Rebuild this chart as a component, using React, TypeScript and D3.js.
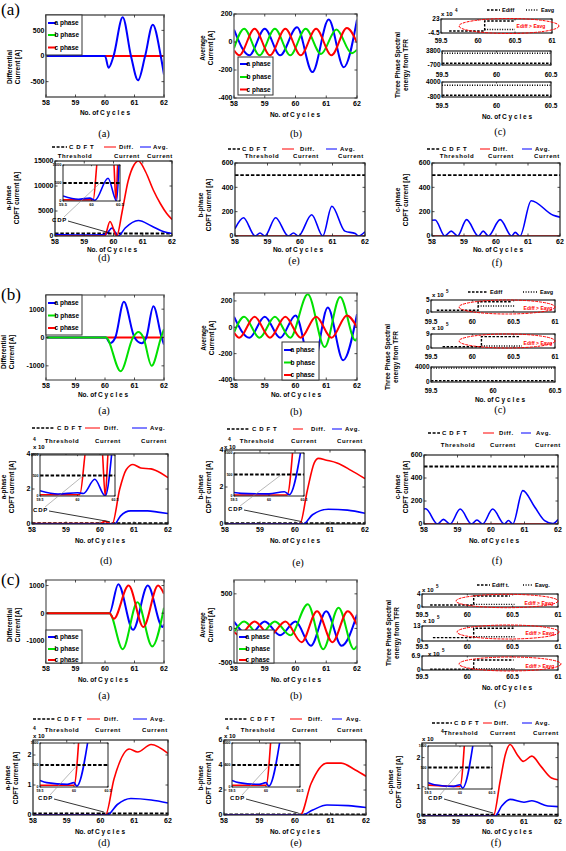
import React from 'react';
import * as d3 from 'd3';

type Pt = [number, number];

const SANS = '"Liberation Sans", Arial, Helvetica, sans-serif';
const SERIF = '"Liberation Serif", "Times New Roman", serif';
const BLUE = '#0000ff', GREEN = '#00e000', RED = '#ff0000';

// ---------- shared ticks / labels ----------
const cycleTicks = [58, 59, 60, 61, 62];
const tfrTicks3 = [59.5, 60, 60.5];
const tfrTicks4 = [59.5, 60, 60.5, 61];
const insetTicks = [59.5, 60, 60.5];
const insetYTicks = [0, 500, 1000];
const phaseNames = ['a phase', 'b phase', 'c phase'];

// ================= SECTION (a) =================
const aDiffA: Pt[] = [[58,0],[60,0],[60.12,-230],[60.29,0],[60.6,756],[60.88,0],[61.12,-475],[61.36,0],[61.62,610],[61.89,0],[62,-365]];
const aDiffB: Pt[] = [[58,0],[62,0]];
const aDiffC: Pt[] = [[58,0],[62,0]];

const aAvgA: Pt[] = [[58,88],[58.5,-95],[59,95],[59.5,-95],[60.05,105],[60.55,-215],[61.08,160],[61.57,-180],[62,160]];
const aAvgB: Pt[] = [[58,-45],[58.33,95],[58.83,-95],[59.33,95],[59.83,-95],[60.33,95],[60.83,-85],[61.33,90],[61.83,-80],[62,-55]];
const aAvgC: Pt[] = [[58,-60],[58.17,-95],[58.67,95],[59.17,-95],[59.67,95],[60.17,-95],[60.67,95],[61.17,-95],[61.67,100],[62,-5]];

const aE1Diff: Pt[] = [[59.61,-0.5],[60.09,-0.5],[60.09,19],[60.5,19]];
const aE1Avg: Pt[] = [[60.09,2.5],[60.5,2.5]];
const aE2Diff: Pt[] = [[59.5,-150],[60.5,-150]];
const aE2Avg: Pt[] = [[59.5,3060],[60.5,3060]];
const aE3Diff: Pt[] = [[59.5,-256],[60.5,-256]];
const aE3Avg: Pt[] = [[59.5,2940],[60.5,2940]];

const aThr: Pt[] = [[58,500],[62,500]];
const aDRed: Pt[] = [[58,0],[59.7,0],[59.88,2900],[60.11,0],[60.3,5000],[60.5,11000],[60.7,14200],[60.85,15000],[61.1,12800],[61.36,9200],[61.6,6500],[61.82,4500],[62,3300]];
const aDBlue: Pt[] = [[58,300],[59,200],[59.6,250],[59.75,400],[59.95,1600],[60.16,0],[60.4,1600],[60.85,3100],[61.3,2000],[61.7,900],[62,500]];
const aDInThr: Pt[] = [[59.5,500],[60.5,500]];
const aDInRed: Pt[] = [[59.5,30],[60.03,30],[60.12,1300],[60.38,1300],[60.43,0],[60.47,1300],[60.5,1300]];
const aDInBlue: Pt[] = [[59.5,140],[59.77,50],[59.97,80],[60.06,20],[60.29,630],[60.44,0],[60.49,1300]];
const aDCdp: Pt[] = [[59.88,600],[60.15,500]];

const aEBlue: Pt[] = [[58,60],[58.26,150],[58.62,0],[58.77,25],[58.92,0],[59.25,150],[59.64,0],[59.8,25],[59.95,0],[60.36,175],[60.7,0],[60.98,245],[61.38,40],[61.7,20],[61.8,0],[62,35]];
const aERed: Pt[] = [[58,0],[62,0]];
const aFBlue: Pt[] = [[58,130],[58.1,132],[58.4,0],[58.6,40],[58.8,0],[59.08,135],[59.45,0],[59.6,40],[59.76,0],[60.13,135],[60.49,0],[60.6,30],[60.75,0],[61.1,290],[61.79,170],[62,155]];
const aFRed: Pt[] = [[58,0],[62,0]];

// ================= SECTION (b) =================
const bDiffA: Pt[] = [[58,0],[60.03,0],[60.17,-200],[60.35,0],[60.64,1260],[61,0],[61.24,-200],[61.4,0],[61.64,1100],[61.92,0],[62,-250]];
const bDiffB: Pt[] = [[58,0],[60.03,0],[60.53,-1190],[60.95,0],[61.13,190],[61.3,0],[61.58,-1000],[61.9,0],[62,300]];
const bDiffC: Pt[] = [[58,0],[62,0]];

const bAvgA: Pt[] = [[58,80],[58.5,-80],[59,80],[59.5,-80],[60,90],[60.55,-330],[61.05,150],[61.55,-250],[62,100]];
const bAvgB: Pt[] = [[58,-40],[58.33,80],[58.83,-80],[59.33,80],[59.83,-80],[60.4,250],[60.95,-150],[61.45,230],[61.95,-100],[62,-80]];
const bAvgC: Pt[] = [[58,-40],[58.17,-80],[58.67,80],[59.17,-80],[59.67,80],[60.17,-80],[60.67,80],[61.17,-80],[61.67,90],[62,0]];

const bE1Diff: Pt[] = [[59.57,0.7],[60.07,0.7],[60.07,4.3],[60.48,4.3]];
const bE1Avg: Pt[] = [[60.07,2.5],[60.52,2.5]];
const bE2Diff: Pt[] = [[59.64,0.8],[60.11,0.8],[60.11,7.3],[60.58,7.3]];
const bE2Avg: Pt[] = [[60.11,1.3],[60.6,1.3]];
const bE3Diff: Pt[] = [[59.5,347],[60.5,347]];
const bE3Avg: Pt[] = [[59.5,3733],[60.5,3733]];

const bThr4: Pt[] = [[58,0.05],[62,0.05]];
const bDRed: Pt[] = [[58,0.02],[60,0.02],[60.14,0.15],[60.3,0.02],[60.36,0],[60.58,2.0],[60.77,3.1],[60.97,3.4],[61.2,3.2],[61.5,3.15],[61.8,2.9],[62,2.65]];
const bDBlue: Pt[] = [[58,0],[60.43,0],[60.6,0.45],[60.9,0.75],[61.4,0.75],[61.7,0.68],[62,0.6]];
const bDInRed: Pt[] = [[59.5,30],[60.03,30],[60.13,1300],[60.32,1300],[60.37,0],[60.42,1300],[60.5,1300]];
const bDInBlue: Pt[] = [[59.5,130],[59.74,50],[60,80],[60.08,60],[60.23,407],[60.37,0],[60.47,1300]];
const bDCdp: Pt[] = [[60.29,0.13],[60.08,500]];

const bERed: Pt[] = [[58,0],[60.14,0],[60.35,1.8],[60.55,3.3],[60.67,3.55],[60.9,3.45],[61.2,3.3],[61.6,2.9],[62,2.45]];
const bEBlue: Pt[] = [[58,0],[60.24,0],[60.5,0.5],[60.95,0.8],[61.5,0.75],[62,0.58]];
const bEInRed: Pt[] = [[59.5,25],[60.26,25],[60.35,1300]];
const bEInBlue: Pt[] = [[59.5,80],[59.6,60],[60,50],[60.22,100],[60.29,30],[60.48,1300]];
const bECdp: Pt[] = [[60.19,0.13],[60.18,500]];

const bFBlue: Pt[] = [[58,130],[58.05,132],[58.4,0],[58.58,40],[58.78,0],[59.08,130],[59.42,0],[59.58,35],[59.75,0],[60.05,130],[60.4,0],[60.52,30],[60.65,0],[60.95,290],[61.3,150],[61.6,30],[61.85,5],[62,40]];
const bFRed: Pt[] = [[58,0],[62,0]];

// ================= SECTION (c) =================
const cDiffA: Pt[] = [[58,0],[60.15,0],[60.45,1050],[60.95,-600],[61.45,1000],[61.95,-500],[62,-400]];
const cDiffB: Pt[] = [[58,0],[60.15,0],[60.6,-1300],[61.1,400],[61.6,-1200],[62,200]];
const cDiffC: Pt[] = [[58,0],[60.15,0],[60.3,-200],[60.8,1000],[61.3,-500],[61.8,1000],[62,700]];

const cAvgA: Pt[] = [[58,100],[58.5,-100],[59,100],[59.5,-100],[60,100],[60.5,-250],[61,250],[61.5,-250],[62,200]];
const cAvgB: Pt[] = [[58,-50],[58.33,100],[58.83,-100],[59.33,100],[59.83,-100],[60.4,350],[60.9,-300],[61.4,300],[61.9,-300],[62,-250]];
const cAvgC: Pt[] = [[58,-50],[58.17,-100],[58.67,100],[59.17,-100],[59.67,100],[60.2,-200],[60.7,250],[61.2,-200],[61.7,250],[62,50]];

const cE1Diff: Pt[] = [[59.59,0.6],[60.07,0.6],[60.07,3.4],[60.47,3.4]];
const cE1Avg: Pt[] = [[60.07,0.8],[60.52,0.8]];
const cE2Diff: Pt[] = [[59.62,2.9],[60.07,2.9],[60.07,11],[60.51,11]];
const cE2Avg: Pt[] = [[60.07,3.7],[60.52,3.7]];
const cE3Diff: Pt[] = [[59.59,0.35],[60.07,0.35],[60.07,4.9],[60.51,4.9]];
const cE3Avg: Pt[] = [[60.07,0.64],[60.52,0.64]];

const cDRed: Pt[] = [[58,0],[60.15,0],[60.4,1.2],[60.85,2.2],[61.1,2.1],[61.5,2.35],[62,2.05]];
const cDBlue: Pt[] = [[58,0],[60.2,0],[60.5,0.35],[60.9,0.55],[61.5,0.5],[62,0.4]];
const cDInRed: Pt[] = [[59.5,40],[60,40],[60.08,1300]];
const cDInBlue: Pt[] = [[59.5,150],[59.6,100],[59.9,60],[60,100],[60.04,20],[60.23,1300]];
const cDCdp: Pt[] = [[60.1,0.1],[60.05,500]];

const cERed: Pt[] = [[58,0],[60.15,0],[60.45,2.5],[60.9,4.15],[61.3,4.15],[61.7,3.6],[62,3.1]];
const cEBlue: Pt[] = [[58,0],[60.2,0],[60.5,0.4],[60.9,0.8],[61.5,0.75],[62,0.6]];
const cEInRed: Pt[] = [[59.5,40],[60,40],[60.08,1300]];
const cEInBlue: Pt[] = [[59.5,150],[59.6,100],[59.9,60],[60,100],[60.04,20],[60.23,1300]];
const cECdp: Pt[] = [[60.1,0.15],[60.05,500]];

const cFRed: Pt[] = [[58,0],[60.1,0],[60.3,1.2],[60.45,2.1],[60.59,2.45],[60.8,2.1],[60.98,1.87],[61.23,2.05],[61.5,1.7],[61.81,1.3],[62,1.24]];
const cFBlue: Pt[] = [[58,0],[60.15,0],[60.35,0.35],[60.59,0.57],[61,0.47],[61.23,0.52],[61.7,0.34],[62,0.32]];
const cFInRed: Pt[] = [[59.5,90],[60,60],[60.08,1300]];
const cFInBlue: Pt[] = [[59.5,147],[59.6,100],[59.9,60],[60,100],[60.04,20],[60.23,1300]];
const cFCdp: Pt[] = [[60.09,0.1],[60.05,500]];

// ---------- helpers ----------
type Box = [number, number, number, number];
interface S { data: Pt[]; color: string; w?: number; dash?: string; linear?: boolean }

function sc(box: Box, xd: number[], yd: number[]) {
  return {
    x: d3.scaleLinear().domain(xd).range([box[0], box[2]]),
    y: d3.scaleLinear().domain(yd).range([box[3], box[1]]),
  };
}

function T(p: { x: number; y: number; s?: number; a?: 'start' | 'middle' | 'end'; w?: string; f?: string; c?: string; ls?: number; children: React.ReactNode; rot?: boolean }) {
  const common = {
    fontSize: p.s ?? 7, fontFamily: p.f ?? SANS, fontWeight: p.w ?? 'bold', fill: p.c ?? '#000',
    textAnchor: p.a ?? 'start', letterSpacing: p.ls ?? 0,
  } as any;
  if (p.rot) return <text transform={`translate(${p.x},${p.y}) rotate(-90)`} {...common}>{p.children}</text>;
  return <text x={p.x} y={p.y} {...common}>{p.children}</text>;
}

function Axes(p: {
  id: string; box: Box; xd: number[]; yd: number[]; xt: number[]; yt: number[]; ytl?: string[];
  series: S[]; fs?: number; xly?: number; stroke?: string; sw?: number; tick?: number; hideX?: boolean; ylx?: number;
}) {
  const [x0, y0, x1, y1] = p.box;
  const { x, y } = sc(p.box, p.xd, p.yd);
  const fs = p.fs ?? 7;
  const tk = p.tick ?? 2.5;
  const xly = p.xly ?? y1 + fs + 1;
  return (
    <g>
      <defs><clipPath id={p.id}><rect x={x0} y={y0} width={x1 - x0} height={y1 - y0} /></clipPath></defs>
      <rect x={x0} y={y0} width={x1 - x0} height={y1 - y0} fill="#fff" />
      <g clipPath={`url(#${p.id})`}>
        {p.series.map((s, i) => {
          const gen = d3.line<Pt>().x(d => x(d[0])).y(d => y(d[1])).curve(s.linear ? d3.curveLinear : d3.curveMonotoneX);
          return <path key={i} d={gen(s.data) ?? ''} fill="none" stroke={s.color} strokeWidth={s.w ?? 1.8} strokeDasharray={s.dash} />;
        })}
      </g>
      <rect x={x0} y={y0} width={x1 - x0} height={y1 - y0} fill="none" stroke={p.stroke ?? '#222'} strokeWidth={p.sw ?? 1.2} />
      {p.xt.map((v, i) => (
        <g key={'x' + i}>
          <line x1={x(v)} x2={x(v)} y1={y1} y2={y1 - tk} stroke="#222" strokeWidth={0.8} />
          <line x1={x(v)} x2={x(v)} y1={y0} y2={y0 + tk} stroke="#222" strokeWidth={0.8} />
          {!p.hideX && <T x={x(v)} y={xly} s={fs} a="middle">{String(v)}</T>}
        </g>
      ))}
      {p.yt.map((v, i) => (
        <g key={'y' + i}>
          <line x1={x0} x2={x0 + tk} y1={y(v)} y2={y(v)} stroke="#222" strokeWidth={0.8} />
          <line x1={x1} x2={x1 - tk} y1={y(v)} y2={y(v)} stroke="#222" strokeWidth={0.8} />
          <T x={p.ylx ?? x0 - 1.5} y={y(v) + fs * 0.35} s={fs} a="end">{p.ytl ? p.ytl[i] : String(v)}</T>
        </g>
      ))}
    </g>
  );
}

function PhaseLegend({ x, y, w, h, rows }: { x: number; y: number; w: number; h: number; rows: number[] }) {
  const cols = [BLUE, GREEN, RED];
  return (
    <g>
      <rect x={x} y={y} width={w} height={h} fill="#fff" stroke="#333" strokeWidth={1} />
      {rows.map((ry, i) => (
        <g key={i}>
          <line x1={x + 2} x2={x + 10} y1={ry} y2={ry} stroke={cols[i]} strokeWidth={2} />
          <T x={x + 8.5} y={ry + 2.3} s={6.5}>{phaseNames[i]}</T>
        </g>
      ))}
    </g>
  );
}

function CdftLegend({ y1, y2, cols, four }: { y1: number; y2: number; cols: number[][]; four?: number }) {
  const names = [['C D F T', 'Threshold'], ['Diff.', 'Current'], ['Avg.', 'Current']];
  const st = [{ c: '#000', d: '3,1.6', w: 1.6 }, { c: RED, d: undefined, w: 1 }, { c: BLUE, d: undefined, w: 1 }];
  return (
    <g>
      {cols.map((c, i) => (
        <g key={i}>
          <line x1={c[0]} x2={c[1]} y1={y1 - 2} y2={y1 - 2} stroke={st[i].c} strokeWidth={st[i].w} strokeDasharray={st[i].d} />
          <T x={c[2]} y={y1} s={6} ls={0.6}>{names[i][0]}</T>
          <T x={c[3]} y={y2} s={6} a="middle" ls={0.6}>{names[i][1]}</T>
        </g>
      ))}
      {four !== undefined && <T x={four} y={y2 - 2} s={5}>4</T>}
    </g>
  );
}

function ELegend({ y, d0, d1, dt, a0, a1, at, t1, t2 }: any) {
  return (
    <g>
      <line x1={d0} x2={d1} y1={y - 2} y2={y - 2} stroke="#000" strokeWidth={1.3} strokeDasharray="2.5,1.5" />
      <T x={dt} y={y} s={5.5}>{t1}</T>
      <line x1={a0} x2={a1} y1={y - 2} y2={y - 2} stroke="#000" strokeWidth={1.3} strokeDasharray="1,1.6" />
      <T x={at} y={y} s={5.5}>{t2}</T>
    </g>
  );
}

function Ell({ cx, cy, rx, ry, tx, ty }: { cx: number; cy: number; rx: number; ry: number; tx: number; ty: number }) {
  return (
    <g>
      <ellipse cx={cx} cy={cy} rx={rx} ry={ry} fill="none" stroke={RED} strokeWidth={1} strokeDasharray="3,1" />
      <T x={tx} y={ty} s={5} c={RED} a="middle">Ediff &gt; Eavg</T>
    </g>
  );
}

function Exp({ x, y, e }: { x: number; y: number; e: string }) {
  return (
    <g>
      <T x={x} y={y} s={6}>x 10</T>
      <T x={x + 14} y={y - 4} s={4.5}>{e}</T>
    </g>
  );
}

function Cdp({ mainBox, mainXd, mainYd, inBox, inXd, inYd, pts, tx, ty }: any) {
  const m = sc(mainBox, mainXd, mainYd);
  const n = sc(inBox, inXd, inYd);
  const [mp, ip] = pts as Pt[];
  return (
    <g>
      <T x={tx} y={ty} s={6} ls={0.8}>CDP</T>
      <line x1={tx + 16} y1={ty - 1} x2={m.x(mp[0])} y2={m.y(mp[1])} stroke="#000" strokeWidth={0.8} />
      <line x1={tx + 12} y1={ty - 5} x2={n.x(ip[0])} y2={n.y(ip[1])} stroke="#888" strokeWidth={0.6} />
    </g>
  );
}

const XL = 'No. of C y c l e s';

function YLab({ x, y, l1, l2 }: { x: number; y: number; l1: string; l2: string }) {
  return (
    <g>
      <T x={x} y={y} s={6.5} a="middle" rot>{l1}</T>
      <T x={x + 8} y={y} s={6.5} a="middle" rot>{l2}</T>
    </g>
  );
}

function Cap({ x, y, t }: { x: number; y: number; t: string }) {
  return <T x={x} y={y} s={10.5} w="normal" f={SERIF} a="middle">{t}</T>;
}

const thrS = (d: Pt[]): S => ({ data: d, color: '#000', w: 1.8, dash: '3.5,1.8', linear: true });
const redS = (d: Pt[]): S => ({ data: d, color: RED, w: 1.6 });
const blueS = (d: Pt[]): S => ({ data: d, color: BLUE, w: 1.6 });

function TfrPanel({ id, subs, ylab, xlab, cap }: any) {
  return (
    <g>
      {subs.map((s: any, i: number) => (
        <Axes key={i} id={id + i} box={s.box} xd={s.xd} yd={s.yd} xt={s.xt} yt={s.yd} ytl={s.ytl} xly={s.xly} fs={6.5} tick={1.5}
          series={[
            { data: s.diff, color: '#000', w: 1.4, dash: '2.5,1.5', linear: true },
            { data: s.avg, color: '#000', w: 1.4, dash: '1,1.5', linear: true },
          ]} />
      ))}
      <YLab x={ylab[0]} y={ylab[1]} l1="Three Phase Spectral" l2="energy from TFR" />
      <T x={xlab[0]} y={xlab[1]} s={6.5} a="middle">{XL}</T>
      <Cap x={cap[0]} y={cap[1]} t="(c)" />
    </g>
  );
}

export default function App() {
  const A_a: Box = [46, 15, 164, 97];
  const A_b: Box = [234, 14, 357, 98];
  const A_d: Box = [55, 161, 172, 236];
  const A_dIn: Box = [63, 165, 120, 201];
  const A_e: Box = [235, 163, 365, 236];
  const A_f: Box = [432, 163, 560, 236];

  const B_a: Box = [46, 295, 164, 380];
  const B_b: Box = [234, 293, 357, 380];
  const B_d: Box = [32, 454, 168, 524];
  const B_dIn: Box = [40, 455, 115, 496];
  const B_e: Box = [225, 450, 365, 524];
  const B_eIn: Box = [234, 453, 304, 496];
  const B_f: Box = [424, 455, 558, 524];

  const C_a: Box = [46, 580, 164, 663];
  const C_b: Box = [234, 580, 357, 663];
  const C_d: Box = [33, 740, 168, 815];
  const C_dIn: Box = [40, 743, 108, 787];
  const C_e: Box = [224, 740, 366, 815];
  const C_eIn: Box = [232, 743, 300, 787];
  const C_f: Box = [422, 743, 558, 816];
  const C_fIn: Box = [428, 746, 492, 789];

  const inXd = [59.5, 60.5], inYd = [0, 1000];

  return (
    <svg width={566} height={851} style={{ position: 'absolute', left: 0, top: 0 }} xmlns="http://www.w3.org/2000/svg">
      <rect width={566} height={851} fill="#fff" />

      {/* ================= (a) ================= */}
      <T x={1} y={15} s={17} w="normal" f={SERIF}>(a)</T>

      <Axes id="aa" box={A_a} xd={[58, 62]} yd={[-800, 800]} xt={cycleTicks} yt={[-500, 0, 500]} stroke="#777" sw={1.8}
        series={[{ data: aDiffB, color: GREEN, w: 2, dash: '4,3' }, { data: aDiffC, color: RED, w: 2 }, { data: aDiffA, color: BLUE, w: 2 }]} />
      <PhaseLegend x={46} y={15} w={36} h={40} rows={[23, 35, 47.5]} />
      <YLab x={12} y={67} l1="Differential" l2="Current [A]" />
      <T x={105} y={115} s={6.5} a="middle">{XL}</T>
      <Cap x={104} y={137} t="(a)" />

      <Axes id="ab" box={A_b} xd={[58, 62]} yd={[-400, 200]} xt={cycleTicks} yt={[-400, -200, 0, 200]} stroke="#777" sw={1.5}
        series={[{ data: aAvgA, color: BLUE, w: 2 }, { data: aAvgB, color: GREEN, w: 2 }, { data: aAvgC, color: RED, w: 2 }]} />
      <PhaseLegend x={238} y={57} w={35} h={38} rows={[64, 77, 89.5]} />
      <YLab x={205} y={48} l1="Average" l2="Current [A]" />
      <T x={295} y={117} s={6.5} a="middle">{XL}</T>
      <Cap x={296} y={137} t="(b)" />

      <TfrPanel id="ac" ylab={[400, 65]} xlab={[507, 119]} cap={[500, 135]}
        subs={[
          { box: [441, 19, 552, 33], xd: [59.5, 61], yd: [-4.5, 23], ytl: ['-4.5', '23'], xt: tfrTicks4, xly: 43, diff: aE1Diff, avg: aE1Avg },
          { box: [442, 51, 551, 65], xd: [59.5, 60.5], yd: [-700, 3800], ytl: ['-700', '3800'], xt: tfrTicks3, xly: 77, diff: aE2Diff, avg: aE2Avg },
          { box: [442, 82, 551, 97], xd: [59.5, 60.5], yd: [-800, 4000], ytl: ['-800', '4000'], xt: tfrTicks3, xly: 108, diff: aE3Diff, avg: aE3Avg },
        ]} />
      <Exp x={441} y={16} e="4" />
      <ELegend y={12} d0={487} d1={500} dt={502} a0={526} a1={538} at={541} t1="Ediff" t2="Eavg" />
      <Ell cx={509} cy={26} rx={50} ry={7.5} tx={531} ty={28} />

      <CdftLegend y1={149} y2={158} cols={[[52, 67, 69, 75], [104, 116, 119, 127], [140, 151, 153, 160]]} />
      <Axes id="ad" box={A_d} xd={[58, 62]} yd={[0, 15000]} xt={cycleTicks} yt={[0, 5000, 10000, 15000]}
        series={[thrS(aThr), blueS(aDBlue), redS(aDRed)]} />
      <Axes id="adi" box={A_dIn} xd={inXd} yd={inYd} xt={insetTicks} yt={insetYTicks} fs={4} tick={1.2} sw={1} xly={206}
        series={[redS(aDInRed), blueS(aDInBlue), thrS(aDInThr)]} />
      <Cdp mainBox={A_d} mainXd={[58, 62]} mainYd={[0, 15000]} inBox={A_dIn} inXd={inXd} inYd={inYd} pts={aDCdp} tx={52} ty={222} />
      <YLab x={11} y={198} l1="a-phase" l2="CDFT current [A]" />
      <T x={112} y={252} s={6.5} a="middle">{XL}</T>
      <Cap x={104} y={261} t="(d)" />

      <CdftLegend y1={151} y2={158} cols={[[228, 240, 242, 262], [282, 294, 300, 306], [326, 337, 340, 351]]} />
      <Axes id="ae" box={A_e} xd={[58, 62]} yd={[0, 600]} xt={cycleTicks} yt={[0, 200, 400, 600]}
        series={[thrS(aThr), redS(aERed), blueS(aEBlue)]} />
      <YLab x={203} y={205} l1="b-phase" l2="CDFT current [A]" />
      <T x={298} y={252} s={6.5} a="middle">{XL}</T>
      <Cap x={294} y={264} t="(e)" />

      <CdftLegend y1={151} y2={158} cols={[[427, 440, 442, 457], [480, 490, 493, 501], [522, 532, 535, 547]]} />
      <Axes id="af" box={A_f} xd={[58, 62]} yd={[0, 600]} xt={cycleTicks} yt={[0, 200, 400, 600]}
        series={[thrS(aThr), redS(aFRed), blueS(aFBlue)]} />
      <YLab x={400} y={200} l1="c-phase" l2="CDFT current [A]" />
      <T x={498} y={252} s={6.5} a="middle">{XL}</T>
      <Cap x={497} y={266} t="(f)" />

      {/* ================= (b) ================= */}
      <T x={1} y={300} s={17} w="normal" f={SERIF}>(b)</T>

      <Axes id="ba" box={B_a} xd={[58, 62]} yd={[-1500, 1500]} xt={cycleTicks} yt={[-1000, 0, 1000]} stroke="#777" sw={1.5}
        series={[{ data: bDiffC, color: RED, w: 2 }, { data: bDiffA, color: BLUE, w: 2 }, { data: bDiffB, color: GREEN, w: 2 }]} />
      <PhaseLegend x={46} y={295} w={36} h={40} rows={[303, 315.5, 328]} />
      <YLab x={6} y={352} l1="Differential" l2="Current [A]" />
      <T x={103} y={397} s={6.5} a="middle">{XL}</T>
      <Cap x={104} y={414} t="(a)" />

      <Axes id="bb" box={B_b} xd={[58, 62]} yd={[-400, 260]} xt={cycleTicks} yt={[-400, -200, 0, 200]} stroke="#777" sw={1.5}
        series={[{ data: bAvgA, color: BLUE, w: 2 }, { data: bAvgB, color: GREEN, w: 2 }, { data: bAvgC, color: RED, w: 2 }]} />
      <PhaseLegend x={282} y={342} w={37} h={38} rows={[350, 362.5, 375]} />
      <YLab x={206} y={338} l1="Average" l2="Current [A]" />
      <T x={296} y={397} s={6.5} a="middle">{XL}</T>
      <Cap x={296} y={415} t="(b)" />

      <TfrPanel id="bc" ylab={[390, 357]} xlab={[500, 402]} cap={[500, 413]}
        subs={[
          { box: [431, 300, 555, 312], xd: [59.5, 61], yd: [0, 5], ytl: ['0', '5'], xt: tfrTicks4, xly: 324, diff: bE1Diff, avg: bE1Avg },
          { box: [431, 334, 555, 348], xd: [59.5, 61], yd: [0, 9], ytl: ['0', '9'], xt: tfrTicks4, xly: 359, diff: bE2Diff, avg: bE2Avg },
          { box: [431, 367, 555, 382], xd: [59.5, 60.5], yd: [0, 4000], ytl: ['0', '4000'], xt: tfrTicks3, xly: 393, diff: bE3Diff, avg: bE3Avg },
        ]} />
      <Exp x={432} y={297} e="5" />
      <Exp x={432} y={330} e="5" />
      <ELegend y={294} d0={468} d1={487} dt={490} a0={523} a1={538} at={540} t1="Ediff" t2="Eavg" />
      <Ell cx={507} cy={307} rx={48} ry={7} tx={538} ty={310} />
      <Ell cx={507} cy={341} rx={48} ry={7} tx={538} ty={345} />

      <CdftLegend y1={430} y2={443} four={33} cols={[[32, 55, 57, 62], [85, 100, 104, 108], [132, 147, 150, 154]]} />
      <Axes id="bd" box={B_d} xd={[58, 62]} yd={[0, 4]} xt={cycleTicks} yt={[0, 2, 4]}
        series={[thrS(bThr4), redS(bDRed), blueS(bDBlue)]} />
      <Axes id="bdi" box={B_dIn} xd={inXd} yd={inYd} xt={insetTicks} yt={insetYTicks} fs={3.5} tick={1.2} sw={1} xly={501}
        series={[redS(bDInRed), blueS(bDInBlue), thrS(aDInThr)]} />
      <T x={33} y={449} s={6}>x 10</T>
      <Cdp mainBox={B_d} mainXd={[58, 62]} mainYd={[0, 4]} inBox={B_dIn} inXd={inXd} inYd={inYd} pts={bDCdp} tx={33} ty={512} />
      <YLab x={6} y={487} l1="a-phase" l2="CDFT current [A]" />
      <T x={100} y={543} s={6.5} a="middle">{XL}</T>
      <Cap x={106} y={564} t="(d)" />

      <CdftLegend y1={431} y2={443} four={228} cols={[[227, 250, 252, 257], [293, 303, 311, 304], [332, 342, 345, 350]]} />
      <Axes id="be" box={B_e} xd={[58, 62]} yd={[0, 4]} xt={cycleTicks} yt={[0, 2, 4]}
        series={[thrS(bThr4), redS(bERed), blueS(bEBlue)]} />
      <Axes id="bei" box={B_eIn} xd={inXd} yd={inYd} xt={insetTicks} yt={insetYTicks} fs={3.5} tick={1.2} sw={1} xly={501}
        series={[redS(bEInRed), blueS(bEInBlue), thrS(aDInThr)]} />
      <T x={224} y={449} s={6}>x 10</T>
      <Cdp mainBox={B_e} mainXd={[58, 62]} mainYd={[0, 4]} inBox={B_eIn} inXd={inXd} inYd={inYd} pts={bECdp} tx={228} ty={511} />
      <YLab x={203} y={487} l1="b-phase" l2="CDFT current [A]" />
      <T x={295} y={543} s={6.5} a="middle">{XL}</T>
      <Cap x={298} y={566} t="(e)" />

      <CdftLegend y1={435} y2={447} cols={[[428, 440, 442, 458], [483, 494, 499, 503], [521, 531, 536, 548]]} />
      <Axes id="bf" box={B_f} xd={[58, 62]} yd={[0, 600]} xt={cycleTicks} yt={[0, 200, 400, 600]}
        series={[thrS(aThr), redS(bFRed), blueS(bFBlue)]} />
      <YLab x={400} y={487} l1="c-phase" l2="CDFT current [A]" />
      <T x={494} y={543} s={6.5} a="middle">{XL}</T>
      <Cap x={497} y={564} t="(f)" />

      {/* ================= (c) ================= */}
      <T x={1} y={585} s={17} w="normal" f={SERIF}>(c)</T>

      <Axes id="ca" box={C_a} xd={[58, 62]} yd={[-1800, 1200]} xt={cycleTicks} yt={[-1000, 0, 1000]} stroke="#777" sw={1.5}
        series={[{ data: cDiffA, color: BLUE, w: 2 }, { data: cDiffB, color: GREEN, w: 2 }, { data: cDiffC, color: RED, w: 2 }]} />
      <PhaseLegend x={46} y={630} w={36} h={33} rows={[637, 649, 660]} />
      <YLab x={12} y={625} l1="Differential" l2="Current [A]" />
      <T x={103} y={682} s={6.5} a="middle">{XL}</T>
      <Cap x={104} y={699} t="(a)" />

      <Axes id="cb" box={C_b} xd={[58, 62]} yd={[-500, 700]} xt={cycleTicks} yt={[-500, 0, 500]} stroke="#777" sw={1.5}
        series={[{ data: cAvgA, color: BLUE, w: 2 }, { data: cAvgB, color: GREEN, w: 2 }, { data: cAvgC, color: RED, w: 2 }]} />
      <PhaseLegend x={237} y={630} w={37} h={33} rows={[637, 649, 660]} />
      <YLab x={205} y={625} l1="Average" l2="Current [A]" />
      <T x={296} y={682} s={6.5} a="middle">{XL}</T>
      <Cap x={296} y={699} t="(b)" />

      <TfrPanel id="cc" ylab={[391, 633]} xlab={[507, 690]} cap={[500, 707]}
        subs={[
          { box: [422, 594, 558, 607], xd: [59.5, 61], yd: [0, 4], ytl: ['0', '4'], xt: tfrTicks4, xly: 616.5, diff: cE1Diff, avg: cE1Avg },
          { box: [422, 626, 558, 641], xd: [59.5, 61], yd: [0, 13], ytl: ['0', '13'], xt: tfrTicks4, xly: 649, diff: cE2Diff, avg: cE2Avg },
          { box: [422, 656, 558, 670], xd: [59.5, 61], yd: [0, 6.9], ytl: ['0', '6.9'], xt: tfrTicks4, xly: 679, diff: cE3Diff, avg: cE3Avg },
        ]} />
      <Exp x={422} y={592} e="5" />
      <Exp x={423} y={623} e="5" />
      <Exp x={428} y={655.5} e="5" />
      <ELegend y={587} d0={477} d1={490} dt={492} a0={523} a1={533} at={535} t1="Ediff t." t2="Eavg." />
      <Ell cx={507} cy={601} rx={51} ry={6.7} tx={539} ty={605} />
      <Ell cx={508} cy={632} rx={51} ry={7} tx={540} ty={635} />
      <Ell cx={510} cy={664} rx={51} ry={7} tx={540} ty={668} />

      <CdftLegend y1={721} y2={732} four={33} cols={[[33, 55, 57, 62], [87, 100, 104, 108], [133, 147, 150, 155]]} />
      <Axes id="cd" box={C_d} xd={[58, 62]} yd={[0, 2.5]} xt={cycleTicks} yt={[0, 1, 2]}
        series={[thrS(bThr4), redS(cDRed), blueS(cDBlue)]} />
      <Axes id="cdi" box={C_dIn} xd={inXd} yd={inYd} xt={insetTicks} yt={insetYTicks} fs={3.5} tick={1.2} sw={1} xly={792}
        series={[redS(cDInRed), blueS(cDInBlue), thrS(aDInThr)]} />
      <T x={33} y={738} s={6}>x 10</T>
      <Cdp mainBox={C_d} mainXd={[58, 62]} mainYd={[0, 2.5]} inBox={C_dIn} inXd={inXd} inYd={inYd} pts={cDCdp} tx={38} ty={800} />
      <YLab x={10} y={778} l1="a-phase" l2="CDFT current [A]" />
      <T x={100} y={834} s={6.5} a="middle">{XL}</T>
      <Cap x={104} y={846} t="(d)" />

      <CdftLegend y1={721} y2={732} four={226} cols={[[225, 248, 250, 258], [290, 302, 308, 305], [332, 342, 346, 350]]} />
      <Axes id="ce" box={C_e} xd={[58, 62]} yd={[0, 6]} xt={cycleTicks} yt={[0, 2, 4, 6]}
        series={[thrS(bThr4), redS(cERed), blueS(cEBlue)]} />
      <Axes id="cei" box={C_eIn} xd={inXd} yd={inYd} xt={insetTicks} yt={insetYTicks} fs={3.5} tick={1.2} sw={1} xly={792}
        series={[redS(cEInRed), blueS(cEInBlue), thrS(aDInThr)]} />
      <T x={224} y={738} s={6}>x 10</T>
      <Cdp mainBox={C_e} mainXd={[58, 62]} mainYd={[0, 6]} inBox={C_eIn} inXd={inXd} inYd={inYd} pts={cECdp} tx={230} ty={800} />
      <YLab x={203} y={778} l1="b-phase" l2="CDFT current [A]" />
      <T x={295} y={834} s={6.5} a="middle">{XL}</T>
      <Cap x={296} y={846} t="(e)" />

      <CdftLegend y1={725} y2={735} four={441} cols={[[432, 452, 454, 461], [483, 492, 494, 503], [522, 532, 535, 546]]} />
      <Axes id="cf" box={C_f} xd={[58, 62]} yd={[0, 2.5]} xt={cycleTicks} yt={[0, 1, 2]}
        series={[thrS(bThr4), redS(cFRed), blueS(cFBlue)]} />
      <Axes id="cfi" box={C_fIn} xd={inXd} yd={inYd} xt={insetTicks} yt={insetYTicks} fs={3.5} tick={1.2} sw={1} xly={794}
        series={[redS(cFInRed), blueS(cFInBlue), thrS(aDInThr)]} />
      <T x={422} y={741} s={6}>x 10</T>
      <Cdp mainBox={C_f} mainXd={[58, 62]} mainYd={[0, 2.5]} inBox={C_fIn} inXd={inXd} inYd={inYd} pts={cFCdp} tx={428} ty={800} />
      <YLab x={393} y={782} l1="c-phase" l2="CDFT current [A]" />
      <T x={507} y={834} s={6.5} a="middle">{XL}</T>
      <Cap x={496} y={846} t="(f)" />
    </svg>
  );
}
